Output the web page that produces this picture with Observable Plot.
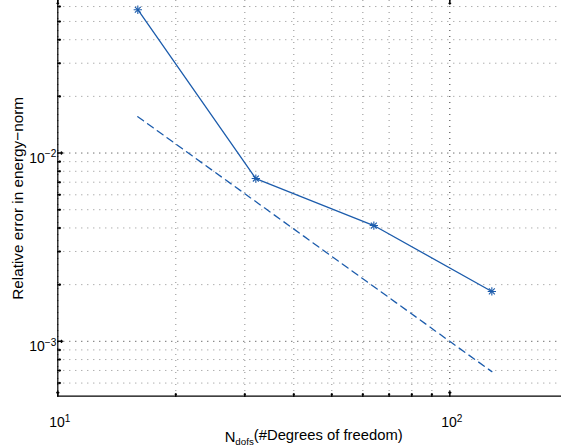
<!DOCTYPE html>
<html><head><meta charset="utf-8">
<script src="https://cdn.jsdelivr.net/npm/d3@7"></script>
<script src="https://cdn.jsdelivr.net/npm/@observablehq/plot@0.6"></script>
<style>html,body{margin:0;padding:0;background:#fff;} #chart svg{display:block;}</style>
</head><body><div id="chart"></div>
<script>
const dofs = [16, 32, 64, 128];
const errors = [0.0577, 0.00732, 0.00412, 0.00184];
const refDofs = [16, 128];
const refErrors = [0.0156, 0.00069];
const xMajorTicks = [10, 100];
const xMinorTicks = [20, 30, 40, 50, 60, 70, 80, 90];
const yMajorTicks = [1e-3, 1e-2];
const yMinorTicks = [6e-4, 7e-4, 8e-4, 9e-4, 2e-3, 3e-3, 4e-3, 5e-3, 6e-3, 7e-3, 8e-3, 9e-3, 2e-2, 3e-2, 4e-2, 5e-2, 6e-2];
const xTickLabels = ["10^1", "10^2"];
const yTickLabels = ["10^−3", "10^−2"];
const xLabel = "N_dofs(#Degrees of freedom)";
const yLabel = "Relative error in energy−norm";
const xDomain = [10, 192.7];
const yDomain = [5.11e-4, 0.0646];

const blue = "#1c5cac";
const series = dofs.map((d, i) => ({dofs: d, error: errors[i]}));
const ref = refDofs.map((d, i) => ({dofs: d, error: refErrors[i]}));

const grid = {stroke: "#000", strokeDasharray: "1,5", strokeWidth: 1};

const plot = Plot.plot({
  width: 561,
  height: 446,
  marginLeft: 57.3,
  marginRight: 0,
  marginTop: 0,
  marginBottom: 50.3,
  style: {fontFamily: "'Liberation Sans', Arial, Helvetica, sans-serif", background: "#fff", color: "#000"},
  x: {type: "log", domain: xDomain, axis: null},
  y: {type: "log", domain: yDomain, axis: null},
  marks: [
    Plot.ruleY(yMinorTicks, {y: d => d, ...grid, strokeOpacity: 0.45}),
    Plot.ruleY(yMajorTicks, {y: d => d, ...grid, strokeOpacity: 0.8}),
    Plot.ruleX(xMinorTicks, {x: d => d, ...grid, strokeOpacity: 0.45}),
    Plot.ruleX(xMajorTicks, {x: d => d, ...grid, strokeOpacity: 0.8}),
    Plot.line(ref, {x: "dofs", y: "error", stroke: blue, strokeWidth: 1.3, strokeDasharray: "7,5"}),
    Plot.line(series, {x: "dofs", y: "error", stroke: blue, strokeWidth: 1.3}),
    Plot.dot(series, {x: "dofs", y: "error", symbol: "plus", r: 2.8, stroke: blue, strokeWidth: 1.1, fill: "none"}),
    Plot.dot(series, {x: "dofs", y: "error", symbol: "times", r: 2.8, stroke: blue, strokeWidth: 1.1, fill: "none"}),
    Plot.ruleX([xDomain[0]], {stroke: "#000", strokeWidth: 1.2}),
    Plot.ruleY([yDomain[0]], {stroke: "#000", strokeWidth: 1.2}),
    Plot.vector(xMajorTicks, {x: d => d, frameAnchor: "bottom", rotate: 0, length: 4.5, anchor: "start", stroke: "#000"}),
    Plot.vector(xMinorTicks, {x: d => d, frameAnchor: "bottom", rotate: 0, length: 2.5, anchor: "start", stroke: "#000"}),
    Plot.vector(xMajorTicks, {x: d => d, frameAnchor: "top", rotate: 180, length: 3.5, anchor: "start", stroke: "#000"}),
    Plot.vector(yMajorTicks, {y: d => d, frameAnchor: "left", rotate: 90, length: 4.5, anchor: "start", stroke: "#000"}),
    Plot.vector(yMinorTicks, {y: d => d, frameAnchor: "left", rotate: 90, length: 2.5, anchor: "start", stroke: "#000"}),
    Plot.text(xMajorTicks, {x: d => d, text: (d, i) => xTickLabels[i], frameAnchor: "bottom", textAnchor: "middle", dx: 2, dy: 26, lineAnchor: "middle", fontSize: 14, fill: "#000"}),
    Plot.text(yMajorTicks, {y: d => d, text: (d, i) => yTickLabels[i], frameAnchor: "left", dx: -1.5, dy: 5, textAnchor: "end", lineAnchor: "middle", fontSize: 14, fill: "#000"}),
    Plot.text([xLabel], {text: d => d, frameAnchor: "bottom", textAnchor: "middle", dx: 4, dy: 41, lineAnchor: "middle", fontSize: 14.8, fill: "#000"}),
    Plot.text([yLabel], {text: d => d, frameAnchor: "left", textAnchor: "middle", dx: -40, rotate: -90, lineAnchor: "middle", fontSize: 15.3, fill: "#000"})
  ]
});

d3.select(plot).selectAll("text").each(function() {
  const t = this.textContent;
  let el = this, fsAttr = null;
  while (el && !fsAttr) { fsAttr = el.getAttribute && el.getAttribute("font-size"); el = el.parentNode; }
  const fs = parseFloat(fsAttr || 14);
  let m = t.match(/^([^\^]+)\^(.+)$/);
  if (m) {
    this.textContent = m[1];
    d3.select(this).append("tspan").attr("dy", "-0.5em").attr("font-size", (fs * 0.72) + "px").text(m[2]);
    return;
  }
  m = t.match(/^([^_]+)_(\w+)(.*)$/);
  if (m) {
    this.textContent = m[1];
    d3.select(this).append("tspan").attr("dy", "0.35em").attr("font-size", (fs * 0.66) + "px").text(m[2]);
    d3.select(this).append("tspan").attr("dy", "-0.35em").attr("font-size", fs + "px").text(m[3]);
  }
});

document.getElementById("chart").appendChild(plot);
</script>
</body></html>
